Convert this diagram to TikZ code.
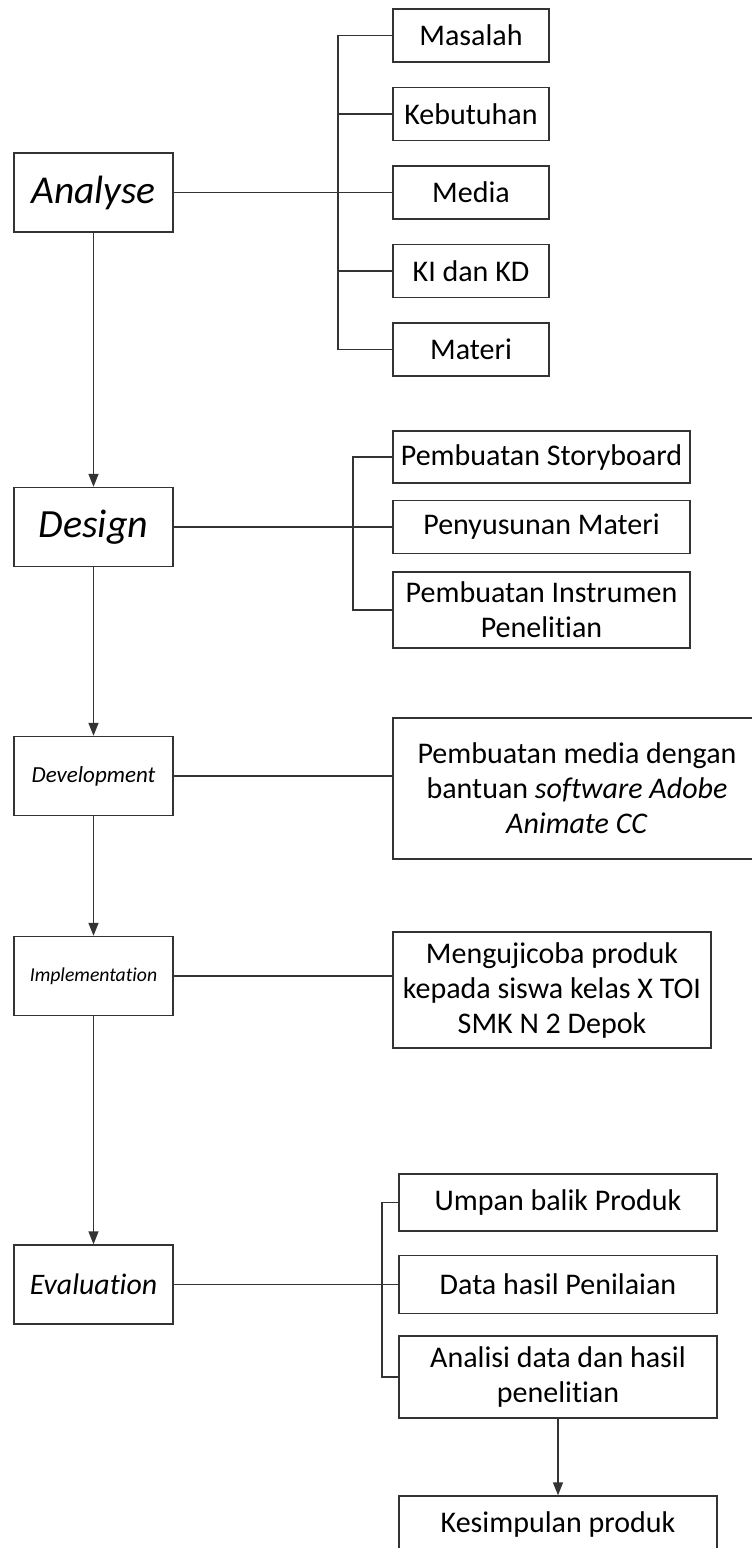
\documentclass[tikz,border=0pt]{standalone}
\usepackage{fontspec}
\setmainfont{Carlito}[Ligatures=NoCommon]
\usetikzlibrary{arrows.meta}
\begin{document}
\begin{tikzpicture}[x=1pt, y=-1pt,
    box/.style={draw=black!80, line width=1.4pt, align=center, inner sep=0pt},
    stage/.style={box, minimum width=159pt, minimum height=79pt},
    item/.style={box, font=\fontsize{30}{35}\selectfont},
    link/.style={draw=black!80, line width=1.4pt},
    flow/.style={link, -{Triangle[length=13pt, width=10pt]}}]
  \useasboundingbox (0,0) rectangle (752,1548);
  \node[stage, font=\fontsize{39.5}{44}\selectfont\itshape] (an) at (93.5,192.5) {Analyse};
  \node[stage, font=\fontsize{40}{44}\selectfont\itshape] (de) at (93.5,527) {Design};
  \node[stage, font=\fontsize{23}{28}\selectfont\itshape] (dv) at (93.5,776) {Development};
  \node[stage, font=\fontsize{19.7}{24}\selectfont\itshape] (im) at (93.5,976) {Implementation};
  \node[stage, font=\fontsize{29.8}{36}\selectfont\itshape] (ev) at (93.5,1284.5) {Evaluation};
  \node[item, minimum width=156pt, minimum height=53pt] (mas) at (471,35.5) {Masalah};
  \node[item, minimum width=156pt, minimum height=53pt] (keb) at (471,114) {Kebutuhan};
  \node[item, minimum width=156pt, minimum height=53pt] (med) at (471,192.5) {Media};
  \node[item, minimum width=156pt, minimum height=53pt] (ki) at (471,271) {KI dan KD};
  \node[item, minimum width=156pt, minimum height=53pt] (mat) at (471,349.5) {Materi};
  \node[item, minimum width=297pt, minimum height=52pt] (sb) at (541.5,457) {Pembuatan Storyboard};
  \node[item, minimum width=297pt, minimum height=53pt] (ps) at (541.5,527) {Penyusunan Materi};
  \node[item, minimum width=297pt, minimum height=76pt] (ins) at (541.5,610) {Pembuatan Instrumen\\Penelitian};
  \node[item, minimum width=368pt, minimum height=141pt] (pm) at (577,788.5) {Pembuatan media dengan\\bantuan \textit{software Adobe}\\\textit{Animate CC}};
  \node[item, minimum width=318pt, minimum height=116pt] (uj) at (552,990) {Mengujicoba produk\\kepada siswa kelas X TOI\\SMK N 2 Depok};
  \node[item, minimum width=318pt, minimum height=57pt] (up) at (558,1202.5) {Umpan balik Produk};
  \node[item, minimum width=318pt, minimum height=58pt] (dh) at (558,1284.5) {Data hasil Penilaian};
  \node[item, minimum width=318pt, minimum height=82pt] (ad) at (558,1377) {Analisi data dan hasil\\penelitian};
  \node[item, minimum width=318pt, minimum height=57pt] (ks) at (558,1524.5) {Kesimpulan produk};
  \coordinate (aj) at (338,0);
  \coordinate (dj) at (353,0);
  \coordinate (ej) at (382,0);
  \draw[flow] (an.south) -- (de.north);
  \draw[flow] (de.south) -- (dv.north);
  \draw[flow] (dv.south) -- (im.north);
  \draw[flow] (im.south) -- (ev.north);
  \draw[link] (an.east) -- (med.west);
  \draw[link] (mas.west) -| (aj |- mat.west) -- (mat.west);
  \foreach \n in {keb,ki}
    \draw[link] (\n.west) -- (\n.west -| aj);
  \draw[link] (de.east) -- (ps.west);
  \draw[link] (sb.west) -| (dj |- ins.west) -- (ins.west);
  \draw[link] (dv.east) -- (dv.east -| pm.west);
  \draw[link] (im.east) -- (im.east -| uj.west);
  \draw[link] (ev.east) -- (dh.west);
  \draw[link] (up.west) -| (ej |- ad.west) -- (ad.west);
  \draw[flow] (ad.south) -- (ks.north);
\end{tikzpicture}
\end{document}
